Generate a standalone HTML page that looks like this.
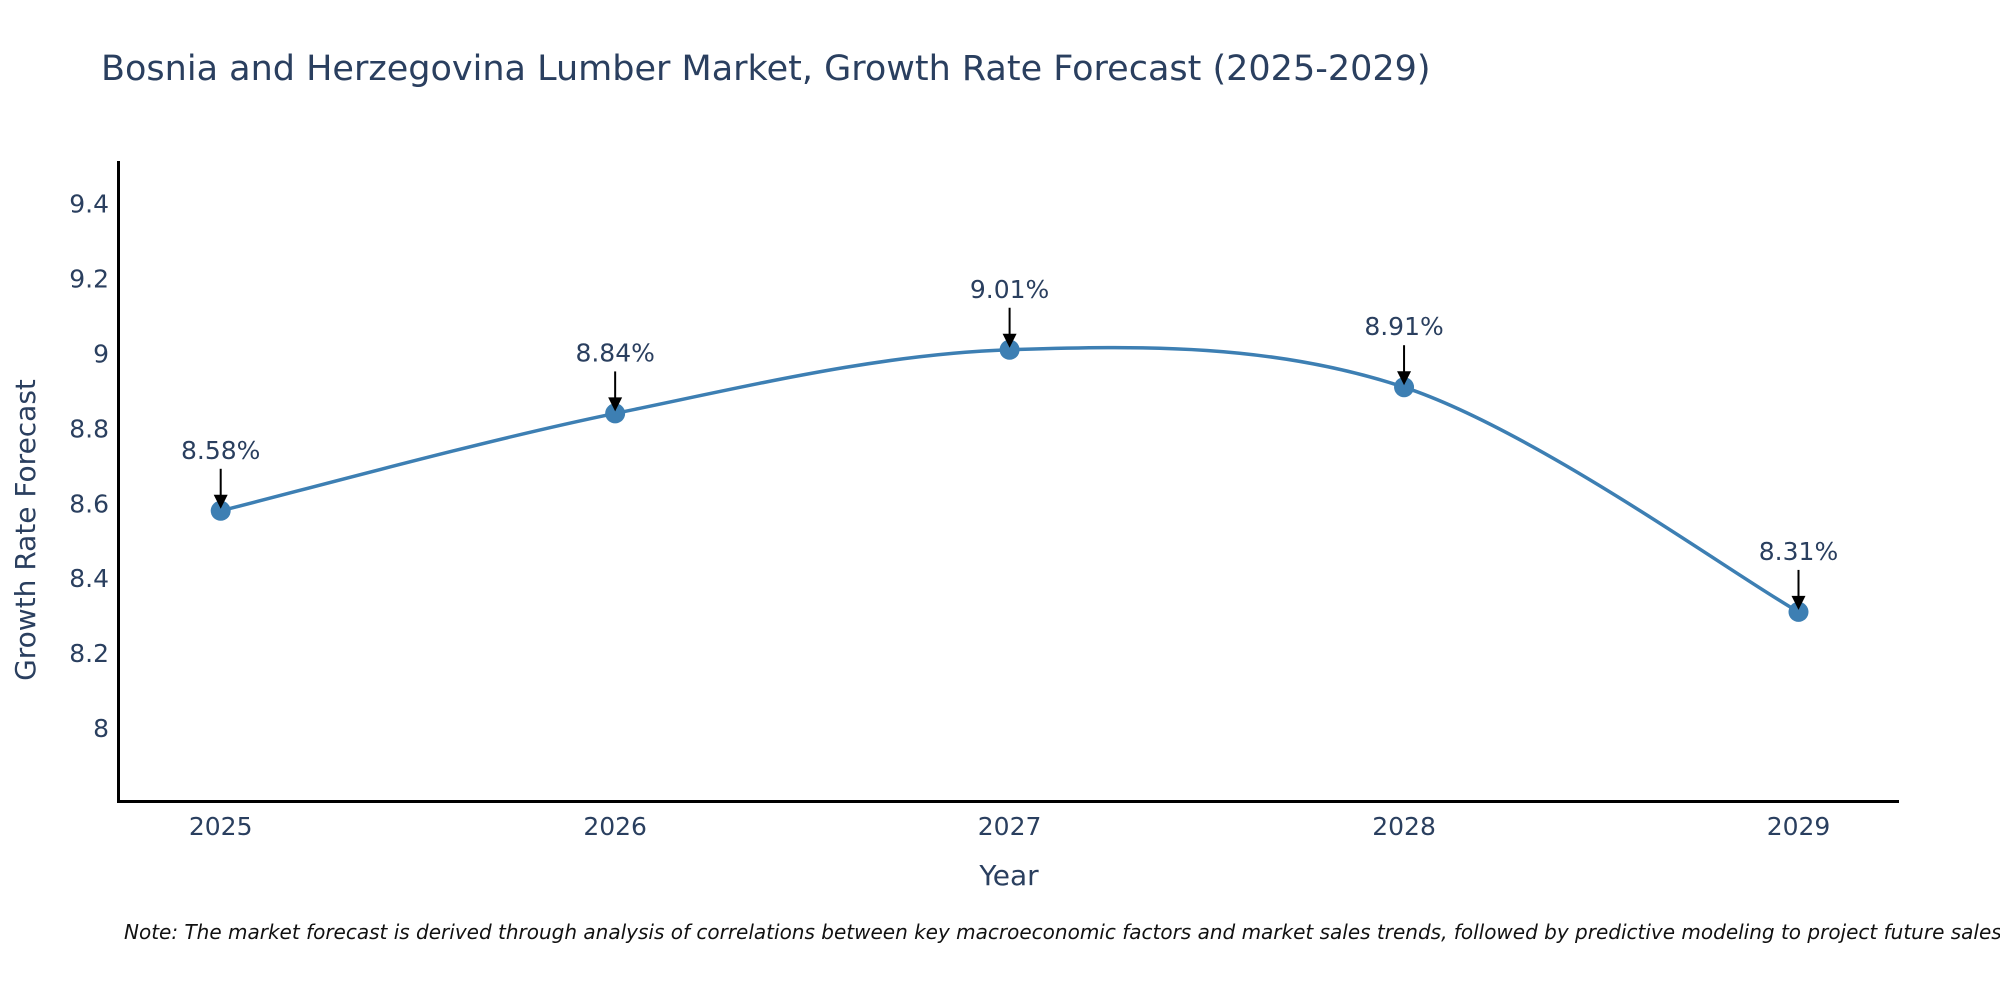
<!DOCTYPE html>
<html><head><meta charset="utf-8"><style>
body{margin:0;background:#fff}
svg text{font-family:"DejaVu Sans","Liberation Sans",sans-serif;fill:#2a3f5f}
</style></head><body>
<svg id="chart" width="2000" height="1000" viewBox="0 0 2000 1000" xmlns="http://www.w3.org/2000/svg">
<text x="101" y="80" font-size="35">Bosnia and Herzegovina Lumber Market, Growth Rate Forecast (2025-2029)</text>
<g id="yticks"></g>
<g id="xticks"></g>
<path id="line" fill="none" stroke="#3d7fb3" stroke-width="3.5"/>
<g id="marks"></g>
<line x1="118.5" y1="161" x2="118.5" y2="802" stroke="#000" stroke-width="3"/>
<line x1="117" y1="801.5" x2="1899" y2="801.5" stroke="#000" stroke-width="3"/>
<text transform="translate(35,530) rotate(-90)" text-anchor="middle" font-size="28">Growth Rate Forecast</text>
<text x="1009" y="885" text-anchor="middle" font-size="28">Year</text>
<text x="124" y="939" font-size="20" font-style="italic" style="fill:#111">Note: The market forecast is derived through analysis of correlations between key macroeconomic factors and market sales trends, followed by predictive modeling to project future sales.</text>
</svg>
<script>
const years=[2025,2026,2027,2028,2029];
const values=[8.58,8.84,9.01,8.91,8.31];
const yTicks=[8,8.2,8.4,8.6,8.8,9,9.2,9.4];
const yTickLabels=["8","8.2","8.4","8.6","8.8","9","9.2","9.4"];
const NS="http://www.w3.org/2000/svg";
function xs(y){return 220.7+(y-2025)*394.45;}
function ys(v){return 728-(v-8)/0.2*74.9;}
function mk(t,a,p){const e=document.createElementNS(NS,t);for(const k in a)e.setAttribute(k,a[k]);if(p)p.appendChild(e);return e;}
const yt=document.getElementById('yticks');
yTicks.forEach((v,i)=>{const t=mk('text',{x:109,y:ys(v)+9,'text-anchor':'end','font-size':25},yt);t.textContent=yTickLabels[i];

});
const xt=document.getElementById('xticks');
years.forEach(y=>{const t=mk('text',{x:xs(y),y:835,'text-anchor':'middle','font-size':25},xt);t.textContent=String(y);

});
const P=years.map((y,i)=>[xs(y),ys(values[i])]);
let d='M'+P[0][0]+','+P[0][1];const s=1/6;
for(let i=0;i<P.length-1;i++){const p0=P[Math.max(0,i-1)],p1=P[i],p2=P[i+1],p3=P[Math.min(P.length-1,i+2)];
d+=' C'+(p1[0]+(p2[0]-p0[0])*s)+','+(p1[1]+(p2[1]-p0[1])*s)+' '+(p2[0]-(p3[0]-p1[0])*s)+','+(p2[1]-(p3[1]-p1[1])*s)+' '+p2[0]+','+p2[1];}
document.getElementById('line').setAttribute('d',d);
const g=document.getElementById('marks');
P.forEach((p,i)=>{const c=mk('circle',{cx:p[0],cy:p[1],r:10,fill:'#3d7fb3'},g);


const l=mk('line',{x1:p[0],y1:p[1]-42,x2:p[0],y2:p[1]-14,stroke:'#000','stroke-width':2},g);


const h=mk('polygon',{points:(p[0]-7)+','+(p[1]-16)+' '+(p[0]+7)+','+(p[1]-16)+' '+p[0]+','+(p[1]-2),fill:'#000'},g);


const t=mk('text',{x:p[0],y:p[1]-52,'text-anchor':'middle','font-size':25},g);t.textContent=values[i].toFixed(2)+'%';

});
</script>
</body></html>
